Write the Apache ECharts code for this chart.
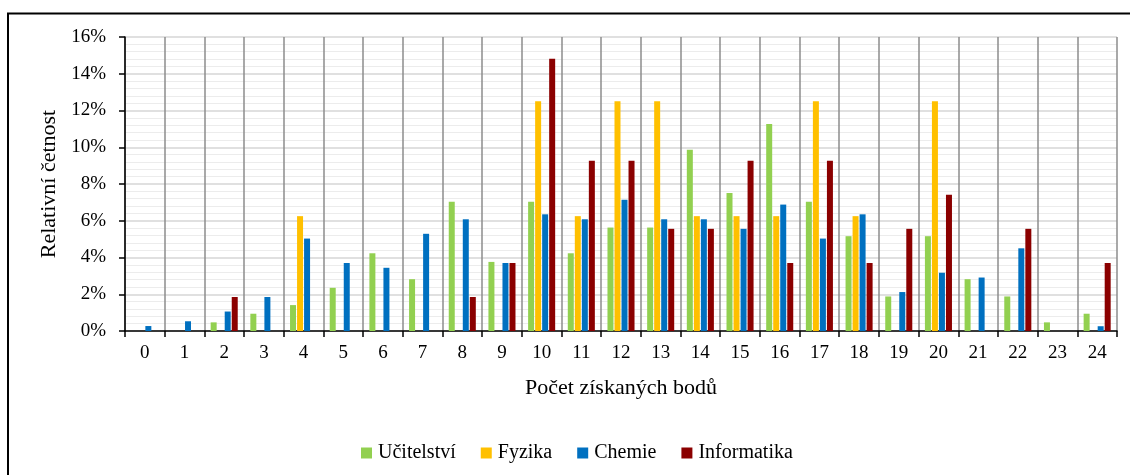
<!DOCTYPE html>
<html>
<head>
<meta charset="utf-8">
<script src="https://cdn.jsdelivr.net/npm/echarts@6/dist/echarts.min.js"></script>
<style>
html,body{margin:0;padding:0;background:#fff;}
#chart{width:1130px;height:475px;}
</style>
</head>
<body>
<div id="chart"></div>
<script>
var categories = ['0','1','2','3','4','5','6','7','8','9','10','11','12','13','14','15','16','17','18','19','20','21','22','23','24'];
var seriesNames = ['Učitelství','Fyzika','Chemie','Informatika'];
var ucitelstvi = [0,0,0.47,0.94,1.41,2.35,4.23,2.82,7.04,3.76,7.04,4.23,5.63,5.63,9.86,7.51,11.27,7.04,5.16,1.88,5.16,2.82,1.88,0.47,0.94];
var fyzika = [0,0,0,0,6.25,0,0,0,0,0,12.5,6.25,12.5,12.5,6.25,6.25,6.25,12.5,6.25,0,12.5,0,0,0,0];
var chemie = [0.27,0.53,1.06,1.85,5.03,3.70,3.44,5.29,6.08,3.70,6.35,6.08,7.14,6.08,6.08,5.56,6.88,5.03,6.35,2.12,3.17,2.91,4.50,0,0.26];
var informatika = [0,0,1.85,0,0,0,0,0,1.85,3.70,14.81,9.26,9.26,5.56,5.56,9.26,3.70,9.26,3.70,5.56,7.41,0,5.56,0,3.70];
var yTicks = {min:0, max:16, interval:2};

var colors = ['#92D050','#FFC000','#0070C0','#8B0000'];
var font = 'Liberation Serif';
var chart = echarts.init(document.getElementById('chart'), null, {renderer:'canvas'});
function bar(name, data){
  return {name:name, type:'bar', data:data, barWidth:6, barGap:'17%', barCategoryGap:'30%'};
}
chart.setOption({
  animation:false,
  color:colors,
  textStyle:{fontFamily:font, color:'#000'},
  graphic:[{type:'rect', shape:{x:8,y:13.5,width:1140,height:480}, style:{fill:'none', stroke:'#000', lineWidth:2}, silent:true}],
  grid:{left:125, right:13, top:37, bottom:144, containLabel:false},
  legend:{
    data:seriesNames, left:356, top:438, icon:'rect', itemWidth:11, itemHeight:11, itemGap:25,
    textStyle:{fontFamily:font, fontSize:20, color:'#000', padding:[0,0,0,1]}
  },
  xAxis:{
    type:'category', data:categories, boundaryGap:true,
    name:'Počet získaných bodů', nameLocation:'middle', nameGap:46,
    nameTextStyle:{fontFamily:font, fontSize:22, color:'#000'},
    axisLine:{lineStyle:{color:'#000', width:1.5}},
    axisTick:{show:true, length:6, lineStyle:{color:'#000', width:1.5}},
    axisLabel:{fontFamily:font, fontSize:19, color:'#000', margin:13},
    splitLine:{show:true, lineStyle:{color:'#8c8c8c', width:1.5}}
  },
  yAxis:{
    type:'value', min:yTicks.min, max:yTicks.max, interval:yTicks.interval,
    name:'Relativní četnost', nameLocation:'middle', nameGap:65, nameRotate:90,
    nameTextStyle:{fontFamily:font, fontSize:22, color:'#000'},
    axisLine:{show:true, lineStyle:{color:'#000', width:1.5}},
    axisTick:{show:true, length:6, lineStyle:{color:'#000', width:1.5}},
    axisLabel:{fontFamily:font, fontSize:19, color:'#000', margin:19, formatter:'{value}%'},
    splitLine:{show:true, lineStyle:{color:'#d6d6d6', width:1.5}},
    minorTick:{show:false, splitNumber:5},
    minorSplitLine:{show:true, lineStyle:{color:'#ececec', width:1}}
  },
  series:[bar(seriesNames[0], ucitelstvi), bar(seriesNames[1], fyzika), bar(seriesNames[2], chemie), bar(seriesNames[3], informatika)]
});
</script>
</body>
</html>
